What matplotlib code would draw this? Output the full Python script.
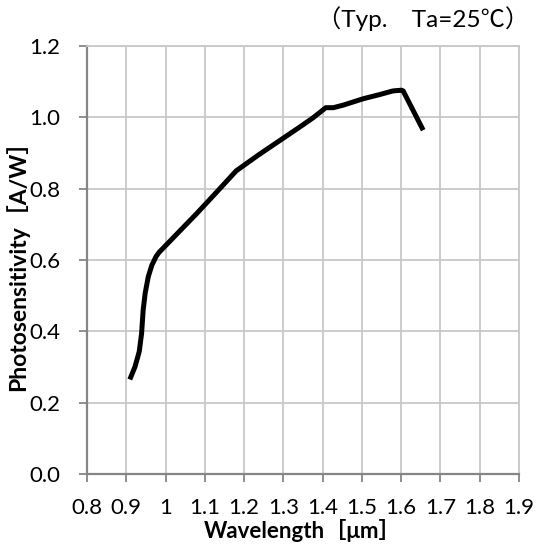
import matplotlib
matplotlib.use("Agg")
import matplotlib.pyplot as plt

plt.rcParams['font.family'] = ['Lato', 'Noto Sans CJK JP', 'DejaVu Sans']

# curve
wavelength = [0.909, 0.922, 0.933, 0.939, 0.943, 0.948, 0.956, 0.965, 0.976, 0.984,
              1.080, 1.134, 1.180, 1.236, 1.342, 1.376, 1.408, 1.427, 1.452, 1.503,
              1.546, 1.579, 1.601, 1.605, 1.656]
sensitivity = [0.265, 0.300, 0.343, 0.394, 0.459, 0.506, 0.553, 0.585, 0.610, 0.622,
               0.731, 0.795, 0.850, 0.894, 0.973, 0.999, 1.027, 1.027, 1.034, 1.052,
               1.064, 1.074, 1.076, 1.074, 0.964]

x_ticks = [0.8, 0.9, 1.0, 1.1, 1.2, 1.3, 1.4, 1.5, 1.6, 1.7, 1.8, 1.9]
x_labels = ['0.8', '0.9', '1', '1.1', '1.2', '1.3', '1.4', '1.5', '1.6', '1.7', '1.8', '1.9']
y_ticks = [0.0, 0.2, 0.4, 0.6, 0.8, 1.0, 1.2]

fig = plt.figure(figsize=(5.37, 5.52), dpi=100)
ax = fig.add_axes([0.162, 0.1413, 0.8045, 0.7754])

ax.plot(wavelength, sensitivity, color='black', lw=3.6,
        solid_joinstyle='round', solid_capstyle='butt', zorder=3)

ax.set_xlim(0.8, 1.9)
ax.set_ylim(0.0, 1.2)
ax.set_xticks(x_ticks)
ax.set_xticklabels(x_labels)
ax.set_yticks(y_ticks)
ax.set_yticklabels([f"{v:.1f}" for v in y_ticks])

ax.grid(True, color='#c8c8c8', lw=1.3)
ax.set_axisbelow(True)
for side in ['top', 'right']:
    ax.spines[side].set_color('#c8c8c8')
    ax.spines[side].set_linewidth(1.3)
for side in ['left', 'bottom']:
    ax.spines[side].set_color('#868686')
    ax.spines[side].set_linewidth(1.6)

ax.tick_params(axis='both', colors='#868686', labelcolor='black', labelsize=16,
               length=6, width=1.3, direction='out')
ax.tick_params(axis='y', pad=13)
ax.tick_params(axis='x', pad=11)

ax.set_xlabel('Wavelength［μm］', fontsize=16, fontweight='bold', labelpad=1)
ax.set_ylabel('Photosensitivity［A/W］', fontsize=16.5, fontweight='bold', labelpad=0)

fig.text(0.985, 0.967, '（Typ.　Ta=25℃）', fontsize=17.5, ha='right', va='center')

fig.savefig('out.png', dpi=100)
